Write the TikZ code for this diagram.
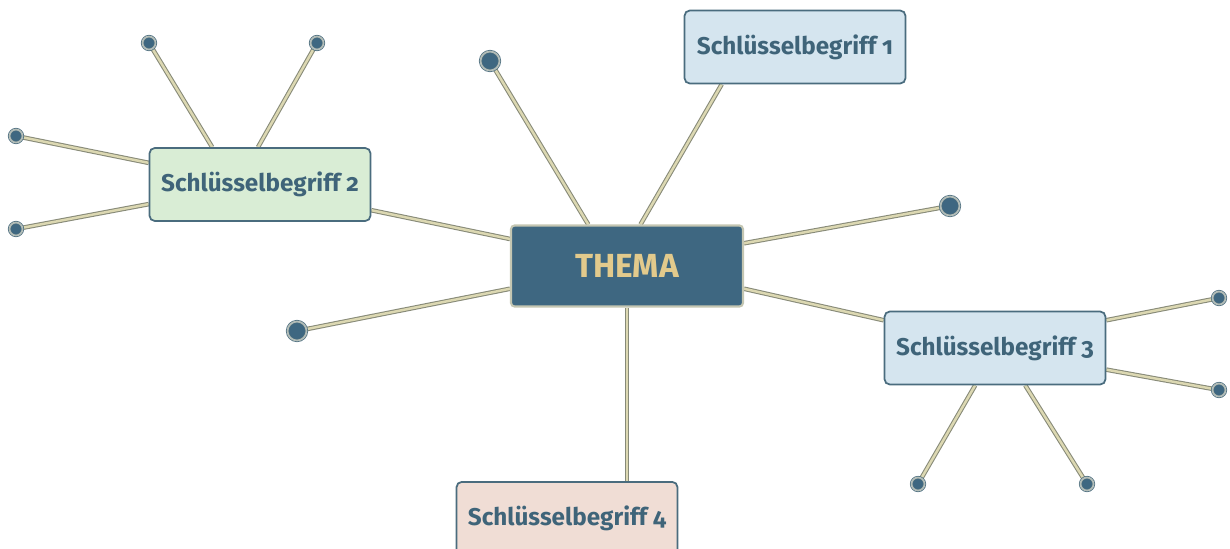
\documentclass[tikz,border=0pt]{standalone}
\usepackage{fontspec}
\setmainfont{Fira Sans}[Numbers=OldStyle]
\usetikzlibrary{backgrounds}
\definecolor{themafill}{HTML}{3E6781}
\definecolor{themaline}{HTML}{C4C6B2}
\definecolor{thematext}{HTML}{E2CA8C}
\definecolor{keyline}{HTML}{4A6C7E}
\definecolor{keytext}{HTML}{3F6479}
\definecolor{bluefill}{HTML}{D5E5EF}
\definecolor{greenfill}{HTML}{D9EDD5}
\definecolor{rosefill}{HTML}{F0DDD5}
\definecolor{stemout}{HTML}{878A78}
\definecolor{stemin}{HTML}{DCD8B2}
\definecolor{dotring}{HTML}{B3BDB8}

\begin{document}
\begin{tikzpicture}
	[x=0.02cm,y=-0.02cm,font=\bfseries]
	\tikzset{key/.style = {rectangle,rounded corners=3pt,draw=keyline,line width=1pt,
			text=keytext,font=\fontsize{13.8}{15}\bfseries,minimum width=4.42cm,minimum height=1.46cm,inner sep=0pt},
		thema/.style = {rectangle,rounded corners=2pt,fill=themafill,draw=themaline,line width=1.2pt,
			text=thematext,font=\fontsize{19}{21}\bfseries,minimum width=4.64cm,minimum height=1.62cm,inner sep=0pt},
		dot/.style = {circle,fill=themafill,draw=keyline,double=dotring,double distance=1pt,line width=0.4pt,inner sep=0pt},
		bigdot/.style = {dot,minimum size=0.38cm},
		smalldot/.style = {dot,minimum size=0.26cm},
		stem/.style = {draw=stemout,double=stemin,double distance=1.4pt,line width=0.6pt}}
	\useasboundingbox (0,0) rectangle (1230,548);

	\node[thema] (thema) at (627,266) {THEMA};
	\node[key,fill=bluefill] (k1) at (795,47) {Schlüsselbegriff 1};
	\node[key,fill=greenfill] (k2) at (260,184.5) {Schlüsselbegriff 2};
	\node[key,fill=bluefill] (k3) at (995,348) {Schlüsselbegriff 3};
	\node[key,fill=rosefill,anchor=north] (k4) at (567,481) {Schlüsselbegriff 4};

	\node[bigdot] (d1) at (490,61) {};
	\node[bigdot] (d2) at (950,206) {};
	\node[bigdot] (d3) at (297,331) {};
	\node[smalldot] (a1) at (149,43) {};
	\node[smalldot] (a2) at (317,43) {};
	\node[smalldot] (a3) at (16,136) {};
	\node[smalldot] (a4) at (16,229) {};
	\node[smalldot] (b1) at (1219,298) {};
	\node[smalldot] (b2) at (1219,390) {};
	\node[smalldot] (b3) at (918,484) {};
	\node[smalldot] (b4) at (1087,484) {};

	\begin{scope}[on background layer]
	\foreach \from/\to in {thema.133/d1,thema.11/d2,thema.191/d3,thema.72/k1.207,
		thema.167/k2.347,thema.349/k3.166,
		k2.142/a1,k2.93/a2,k2.169/a3,k2.190/a4,
		k3.14/b1,k3.349/b2,k3.242/b3,k3.309/b4}
	\draw[stem] (\from)--(\to);
	\draw[stem] (thema.south) -- (thema.south |- k4.north);
	\end{scope}
\end{tikzpicture}
\end{document}
